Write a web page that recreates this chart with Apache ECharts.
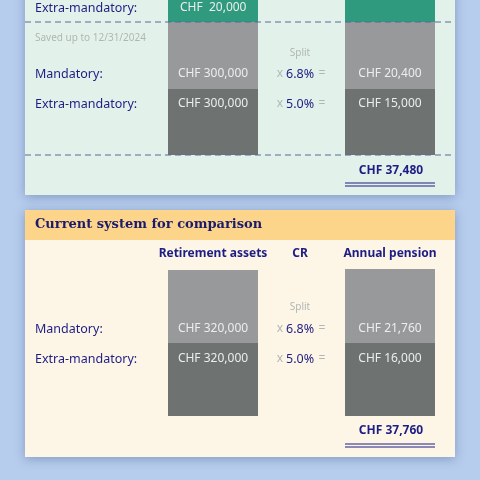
<!DOCTYPE html>
<html><head><meta charset="utf-8">
<script src="https://cdn.jsdelivr.net/npm/echarts@6/dist/echarts.min.js"></script>
<style>html,body{margin:0;padding:0;background:#b6cdee}#c{width:480px;height:480px}</style>
</head><body><div id="c"></div>
<script>
const rowLabels = ['Mandatory:', 'Extra-mandatory:'];
const rates = ['6.8%', '5.0%'];
const newAssets = ['CHF 300,000', 'CHF 300,000'];
const newPension = ['CHF 20,400', 'CHF 15,000'];
const newTotal = 'CHF 37,480';
const topExtraAssets = 'CHF  20,000';
const savedNote = 'Saved up to 12/31/2024';
const cmpTitle = 'Current system for comparison';
const colHeaders = ['Retirement assets', 'CR', 'Annual pension'];
const curAssets = ['CHF 320,000', 'CHF 320,000'];
const curPension = ['CHF 21,760', 'CHF 16,000'];
const curTotal = 'CHF 37,760';

const F = '"Noto Sans", sans-serif';
const NAVY = '#1d1d84', LG = '#97999b', DG = '#6e7271', WT = '#eceeee', GRN = '#2f9a7d';
const g = [];
function rect(x, y, w, h, fill, extra) { g.push(Object.assign({type:'rect', shape:{x,y,width:w,height:h}, style:{fill}}, extra||{})); }
function text(x, y, t, o) { g.push({type:'text', x, y, style:Object.assign({text:t, font:'12px '+F, fill:NAVY, textVerticalAlign:'middle', textAlign:'left'}, o||{})}); }
function line(x1, y1, x2, y2, o) { g.push({type:'line', shape:{x1,y1,x2,y2}, style:Object.assign({stroke:NAVY, lineWidth:1}, o||{})}); }
const shadow = {shadowBlur:10, shadowColor:'rgba(40,60,110,0.35)', shadowOffsetY:2};

// top panel
rect(25, -10, 430, 205, '#e2f2ea', {style:Object.assign({fill:'#e2f2ea'}, shadow)});
rect(168, 0, 90, 22, GRN); rect(345, 0, 90, 22, GRN);
rect(168, 22, 90, 67, LG); rect(168, 89, 90, 66, DG);
rect(345, 22, 90, 67, LG); rect(345, 89, 90, 66, DG);
line(25, 22, 455, 22, {stroke:'#5a6896', lineDash:[6,4]});
line(25, 155, 455, 155, {stroke:'#5a6896', lineDash:[6,4]});
text(35, 8, 'Extra-mandatory:', {font:'12.5px '+F});
text(180, 8, topExtraAssets, {fill:WT});
text(35, 38, savedNote, {fill:'#b0b6b4', font:'10px '+F});
text(300, 53, 'Split', {fill:'#b0b6b4', font:'10px '+F, textAlign:'center'});
const ys1 = [74, 104];
rowLabels.forEach((l, i) => {
  text(35, ys1[i], l, {font:'12.5px '+F});
  text(213, ys1[i], newAssets[i], {fill:WT, textAlign:'center'});
  text(280, ys1[i], 'x', {fill:'#b0b6b4', textAlign:'center'});
  text(300, ys1[i], rates[i], {textAlign:'center', font:'12.5px '+F});
  text(322, ys1[i], '=', {fill:'#b0b6b4', textAlign:'center'});
  text(390, ys1[i], newPension[i], {fill:WT, textAlign:'center'});
});
text(391, 171, newTotal, {textAlign:'center', font:'bold 12px '+F});
line(345, 183, 435, 183); line(345, 186, 435, 186);

// bottom panel
rect(25, 210, 430, 247, '#fdf6e7', {style:Object.assign({fill:'#fdf6e7'}, shadow)});
rect(25, 210, 430, 30, '#fdd58a');
text(35, 225, cmpTitle, {font:'bold 13px "DejaVu Serif", serif', fill:'#1b1b6e'});
[213, 300, 390].forEach((x, i) => text(x, 254, colHeaders[i], {textAlign:'center', font:'bold 12px '+F}));
rect(168, 270, 90, 73, LG); rect(168, 343, 90, 73, DG);
rect(345, 269, 90, 74, LG); rect(345, 343, 90, 73, DG);
text(300, 307, 'Split', {fill:'#b0b6b4', font:'10px '+F, textAlign:'center'});
const ys2 = [329, 359];
rowLabels.forEach((l, i) => {
  text(35, ys2[i], l, {font:'12.5px '+F});
  text(213, ys2[i], curAssets[i], {fill:WT, textAlign:'center'});
  text(280, ys2[i], 'x', {fill:'#b0b6b4', textAlign:'center'});
  text(300, ys2[i], rates[i], {textAlign:'center', font:'12.5px '+F});
  text(322, ys2[i], '=', {fill:'#b0b6b4', textAlign:'center'});
  text(390, ys2[i], curPension[i], {fill:WT, textAlign:'center'});
});
text(391, 431, curTotal, {textAlign:'center', font:'bold 12px '+F});
line(345, 444, 435, 444); line(345, 447, 435, 447);

const chart = echarts.init(document.getElementById('c'));
chart.setOption({backgroundColor:'#b6cdee', animation:false, graphic:{elements:g}});
</script></body></html>
